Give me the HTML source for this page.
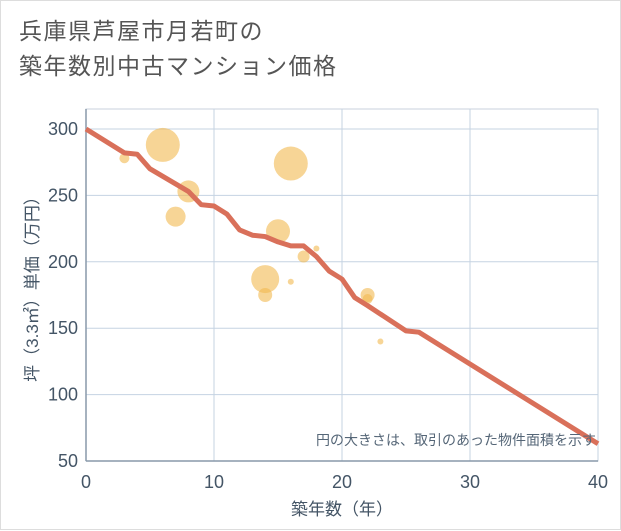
<!DOCTYPE html>
<html><head><meta charset="utf-8"><style>
body{margin:0;background:#fff;}
#wrap{position:relative;width:621px;height:530px;background:#fff;border:1px solid #ddd;box-sizing:border-box;font-family:"Liberation Sans","Noto Sans CJK JP",sans-serif;}
.title{position:absolute;left:18px;top:13px;font-size:23px;line-height:35px;color:#555;letter-spacing:1.5px;}
</style></head><body>
<div id="wrap">
<div class="title">兵庫県芦屋市月若町の<br>築年数別中古マンション価格</div>
<svg id="c" width="621" height="530" style="position:absolute;left:0;top:0"></svg>
</div>
<script>
const lineX=[0,3,4,5,8,9,10,11,12,13,14,15,16,17,18,19,20,21,22,25,26,40];
const lineY=[300,282,281,270,253,243,242,236,224,220,219,215,212,212,204,193,187,173,167,148,147,63];
const bubX=[3,6,7,8,14,14,15,16,16,17,18,22,22,23];
const bubY=[278,288,234,253,187,175,223,274,185,204,210,175,172,140];
const bubR=[5,17,10,11,14,7,12,17,3,6,3,7,5,3];
const xTicks=[0,10,20,30,40];
const yTicks=[50,100,150,200,250,300];
const NS="http://www.w3.org/2000/svg";
const svg=document.getElementById('c');
const L=85,R=597,T=108,B=460;
const xs=v=>L+(v-0)/40*(R-L);
const ys=v=>B-(v-50)/250*(B-128);
function mk(t,a,p){const e=document.createElementNS(NS,t);for(const k in a)e.setAttribute(k,a[k]);(p||svg).appendChild(e);return e;}
const plot=mk('rect',{x:L,y:T,width:R-L,height:B-T,fill:'#fff',stroke:'#c8d2dc'});


xTicks.forEach(v=>{
 const g=mk('line',{x1:xs(v),x2:xs(v),y1:T,y2:B,stroke:'#c5d3e2','stroke-width':1});
 
 
 const t=mk('text',{x:xs(v),y:B+27,'text-anchor':'middle','font-size':18,fill:'#445566'});
 t.textContent=v;
 
 
});
yTicks.forEach(v=>{
 const g=mk('line',{x1:L,x2:R,y1:ys(v),y2:ys(v),stroke:'#c5d3e2','stroke-width':1});
 
 
 const t=mk('text',{x:L-8,y:ys(v)+6,'text-anchor':'end','font-size':18,fill:'#445566'});
 t.textContent=v;
 
 
});
const ax=mk('line',{x1:L,x2:L,y1:T,y2:B,stroke:'#8899aa','stroke-width':1.5});


const ax2=mk('line',{x1:L,x2:R,y1:B,y2:B,stroke:'#8899aa','stroke-width':1.5});


bubX.forEach((v,i)=>{
 const c=mk('circle',{cx:xs(v),cy:ys(bubY[i]),r:bubR[i],fill:'#f2b950','fill-opacity':0.6});
 
 
});
const pl=mk('polyline',{points:lineX.map((v,i)=>xs(v)+','+ys(lineY[i])).join(' '),fill:'none',stroke:'#d9705a','stroke-width':5,'stroke-linejoin':'round'});


const note=mk('text',{x:R-2,y:444,'text-anchor':'end','font-size':14,fill:'#556677'});
note.textContent='円の大きさは、取引のあった物件面積を示す';


const xt=mk('text',{x:(L+R)/2,y:514,'text-anchor':'middle','font-size':17,fill:'#445566'});
xt.textContent='築年数（年）';


const yt=mk('text',{x:0,y:0,'text-anchor':'middle','font-size':17,fill:'#445566',transform:'translate(37,'+((T+B)/2)+') rotate(-90)'});
yt.textContent='坪（3.3㎡）単価（万円）';


</script>
</body></html>
